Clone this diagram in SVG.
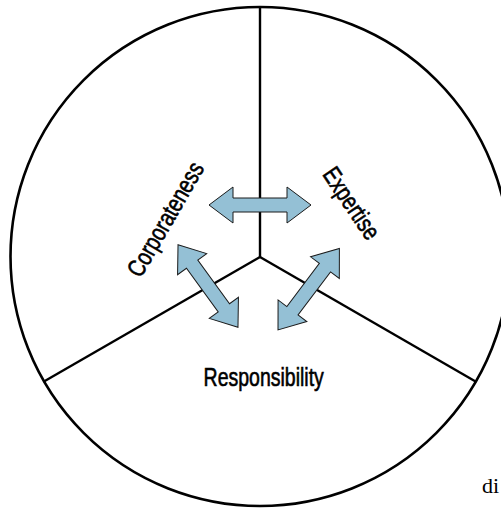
<svg xmlns="http://www.w3.org/2000/svg" xmlns:xlink="http://www.w3.org/1999/xlink" width="501" height="509" viewBox="0 0 501 509">
  <style>
    .outline { fill: none; stroke: #000; stroke-width: 2.6; }
    .divider { stroke: #000; stroke-width: 2.4; fill: none; }
    .arrow { fill: #94c0d5; stroke: #1a1a1a; stroke-width: 1; stroke-linejoin: miter; }
    .label { font-family: "Liberation Sans", Arial, sans-serif; font-size: 25px; fill: #000; stroke: #000; stroke-width: 0.6; text-anchor: middle; }
    .stray { font-family: "Liberation Serif", "Times New Roman", serif; font-size: 22px; fill: #000; }
  </style>
  <defs>
    <path id="dblArrow" d="M -51 0 L -27 -18 L -27 -7 L 27 -7 L 27 -18 L 51 0 L 27 18 L 27 7 L -27 7 L -27 18 Z"/>
  </defs>
  <rect width="501" height="509" fill="#fff"/>
  <g id="circle">
    <circle class="outline" cx="260" cy="256.5" r="249.5"/>
  </g>
  <g id="connectors">
    <line class="divider" x1="260" y1="7" x2="260" y2="257"/>
    <line class="divider" x1="260" y1="257" x2="43.5" y2="381.7"/>
    <line class="divider" x1="260" y1="257" x2="476" y2="381.7"/>
    <use class="arrow" xlink:href="#dblArrow" href="#dblArrow" transform="translate(260,205)"/>
    <use class="arrow" xlink:href="#dblArrow" href="#dblArrow" transform="translate(208,286) rotate(54)"/>
    <use class="arrow" xlink:href="#dblArrow" href="#dblArrow" transform="translate(308.7,289.2) rotate(-53)"/>
  </g>
  <g id="corporateness">
    <text class="label" transform="translate(165,219) rotate(-60) scale(0.78,1)" x="0" y="9">Corporateness</text>
  </g>
  <g id="expertise">
    <text class="label" transform="translate(352,203) rotate(56) scale(0.78,1)" x="0" y="9">Expertise</text>
  </g>
  <g id="responsibility">
    <text class="label" transform="translate(263.7,386) scale(0.78,1)" x="0" y="0">Responsibility</text>
  </g>
  <text class="stray" x="482" y="493">di</text>
</svg>
